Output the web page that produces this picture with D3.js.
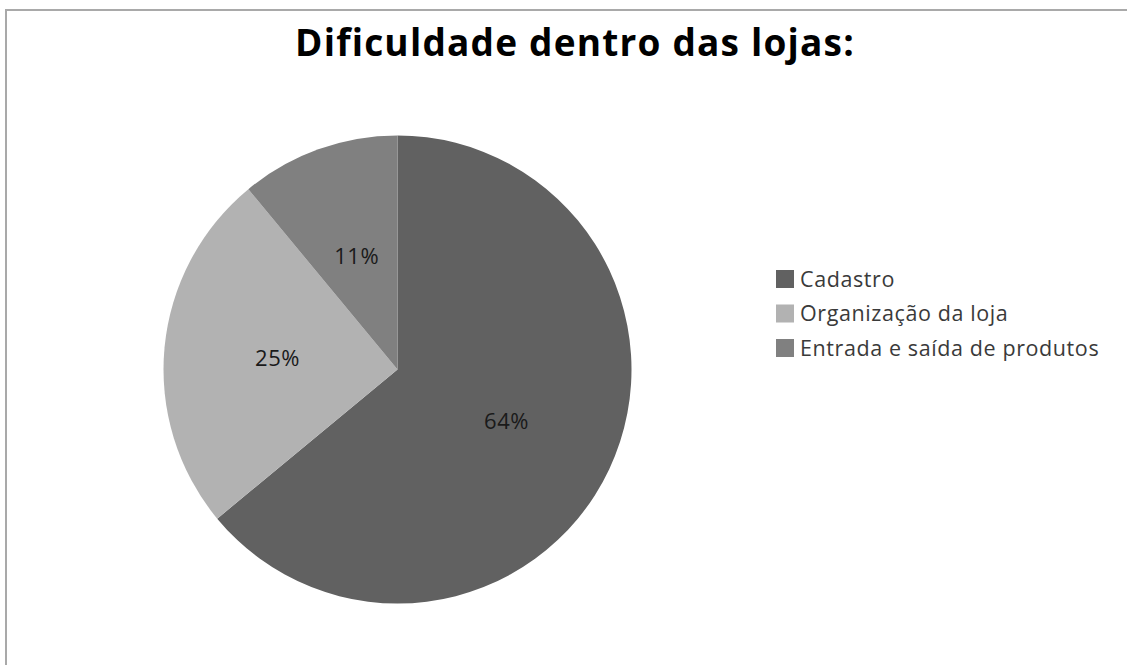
<!DOCTYPE html>
<html>
<head>
<meta charset="utf-8">
<script src="https://cdn.jsdelivr.net/npm/d3@7"></script>
<style>
  body { margin:0; background:#fff; }
  svg { display:block; font-family:"Open Sans", sans-serif; }
</style>
</head>
<body>
<div id="chart"></div>
<script>
// Dificuldade dentro das lojas
const categories = ["Cadastro", "Organização da loja", "Entrada e saída de produtos"];
const values = [64, 25, 11];
const colors = ["#616161", "#b2b2b2", "#808080"];
const title = "Dificuldade dentro das lojas:";

const W = 1127, H = 665;
const svg = d3.select("#chart").append("svg").attr("width", W).attr("height", H);

// frame (only top and left edges visible)
svg.append("line").attr("x1",6).attr("x2",W).attr("y1",10).attr("y2",10).attr("stroke","#a9a9a9").attr("stroke-width",2);
svg.append("line").attr("x1",6).attr("x2",6).attr("y1",9).attr("y2",H).attr("stroke","#a9a9a9").attr("stroke-width",2);

svg.append("text").attr("x",575).attr("y",56).attr("text-anchor","middle")
  .attr("font-size","37px").attr("font-weight","bold").attr("letter-spacing","1.2px")
  .attr("fill","#000").text(title);

const cx = 397.5, cy = 369.5, R = 234;
const data = categories.map((c,i)=> ({cat:c, value:values[i]}));
const pie = d3.pie().sort(null).value(d=>d.value)(data);
const arc = d3.arc().innerRadius(0).outerRadius(R);
const labelArc = d3.arc().innerRadius(0).outerRadius(R*1.03);
const color = d3.scaleOrdinal().domain(categories).range(colors);

const g = svg.append("g").attr("transform",`translate(${cx},${cy})`);
g.selectAll("path").data(pie).enter().append("path")
  .attr("d", arc).attr("fill", d=> color(d.data.cat));

const total = d3.sum(values);
g.selectAll("text.lbl").data(pie).enter().append("text").attr("class","lbl")
  .attr("transform", d=> `translate(${labelArc.centroid(d)})`)
  .attr("text-anchor","middle").attr("dy","0.36em")
  .attr("font-size","22px").attr("letter-spacing","0.5px").attr("fill","#1a1a1a")
  .text(d=> Math.round(d.data.value/total*100) + "%");

// legend
const legend = svg.append("g").attr("transform","translate(776,270)");
categories.forEach((c,i)=> {
  const row = legend.append("g").attr("transform",`translate(0,${i*34.5})`);
  row.append("rect").attr("width",18).attr("height",18).attr("fill", color(c));
  row.append("text").attr("x",24).attr("y",16.5).attr("font-size","21.5px")
    .attr("letter-spacing","0.6px").attr("fill","#3a3a3a").text(c);
});
</script>
</body>
</html>
